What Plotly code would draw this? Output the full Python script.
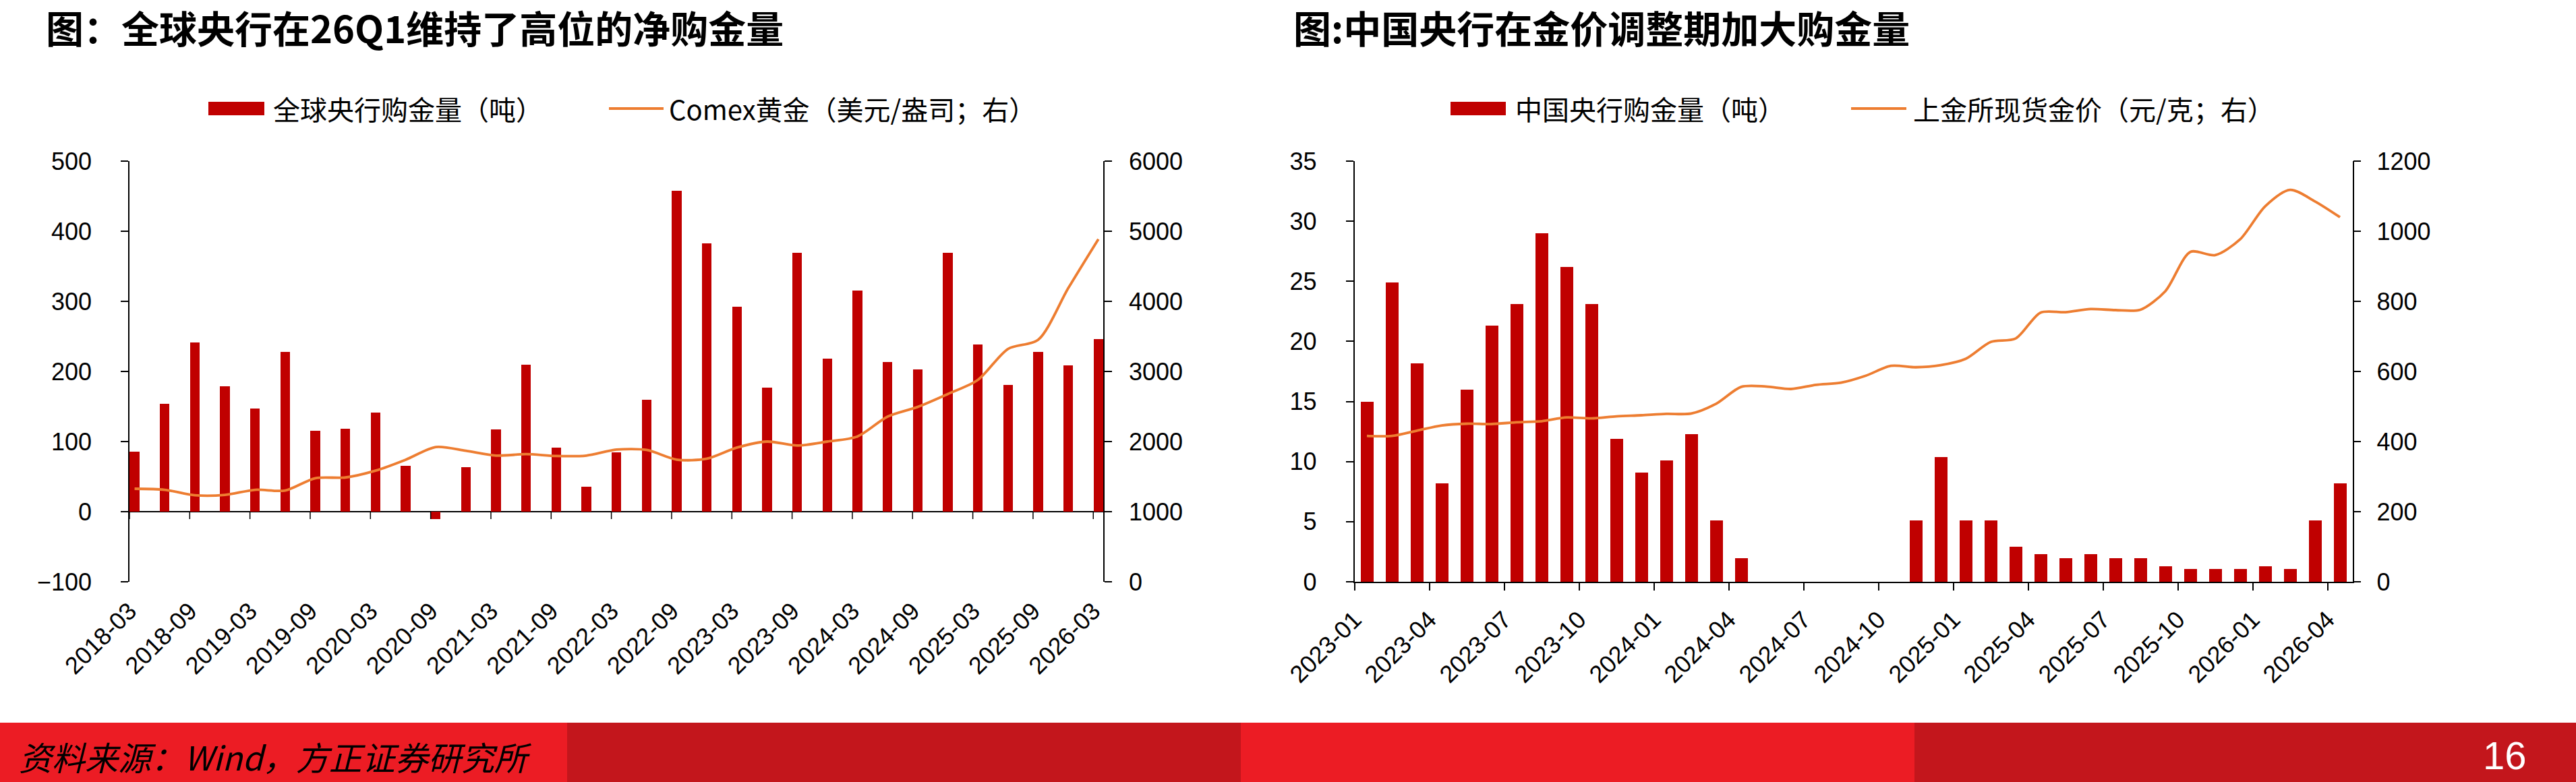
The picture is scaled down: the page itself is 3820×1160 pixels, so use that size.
import plotly.graph_objects as go

W, H = 3820, 1160

# ---------------- data: chart 1 (global central bank net purchases) ----------------
quarters = ["2018-03", "2018-06", "2018-09", "2018-12",
            "2019-03", "2019-06", "2019-09", "2019-12",
            "2020-03", "2020-06", "2020-09", "2020-12",
            "2021-03", "2021-06", "2021-09", "2021-12",
            "2022-03", "2022-06", "2022-09", "2022-12",
            "2023-03", "2023-06", "2023-09", "2023-12",
            "2024-03", "2024-06", "2024-09", "2024-12",
            "2025-03", "2025-06", "2025-09", "2025-12",
            "2026-03"]
gcb_tonnes = [86, 154, 241, 179, 147, 228, 115, 118, 141, 65, -11, 63, 117, 210, 91, 36,
              85, 160, 458, 383, 292, 177, 369, 218, 315, 213, 203, 369, 238, 181, 228, 209, 246]
comex_usd = [1327, 1312, 1234, 1239, 1312, 1302, 1478, 1488, 1585, 1741, 1922, 1868, 1800, 1820,
             1794, 1800, 1885, 1880, 1742, 1755, 1914, 2000, 1944, 2000, 2073, 2356, 2494, 2678,
             2880, 3322, 3451, 4189, 4888]

# ---------------- data: chart 2 (PBoC purchases) ----------------
months = ["2023-01", "2023-02", "2023-03", "2023-04", "2023-05", "2023-06", "2023-07", "2023-08",
          "2023-09", "2023-10", "2023-11", "2023-12", "2024-01", "2024-02", "2024-03", "2024-04",
          "2024-05", "2024-06", "2024-07", "2024-08", "2024-09", "2024-10", "2024-11", "2024-12",
          "2025-01", "2025-02", "2025-03", "2025-04", "2025-05", "2025-06", "2025-07", "2025-08",
          "2025-09", "2025-10", "2025-11", "2025-12", "2026-01", "2026-02", "2026-03", "2026-04"]
pboc_tonnes = [15.0, 24.9, 18.2, 8.2, 16.0, 21.3, 23.1, 29.0, 26.2, 23.1, 11.9, 9.1, 10.1, 12.3, 5.1, 1.95,
               0, 0, 0, 0, 0, 0, 5.1, 10.4,
               5.1, 5.1, 2.9, 2.3, 1.95, 2.3, 1.95, 1.95, 1.3, 1.05, 1.05, 1.05, 1.3, 1.05, 5.1, 8.2]
sge_cny = [416, 416, 431, 446, 451, 450, 455, 458, 469, 466, 472, 475, 479, 480, 508, 556,
           557, 550, 562, 568, 588, 616, 612, 618, 636, 684, 694, 768, 769, 778, 775, 776,
           829, 941, 932, 977, 1071, 1118, 1085, 1040]

title1 = "图：全球央行在26Q1维持了高位的净购金量"
title2 = "图:中国央行在金价调整期加大购金量"
leg1_bar = "全球央行购金量（吨）"
leg1_line = "Comex黄金（美元/盎司；右）"
leg2_bar = "中国央行购金量（吨）"
leg2_line = "上金所现货金价（元/克；右）"
source = "资料来源：Wind，方正证券研究所"
page_no = "16"

# ---------------- styles ----------------
BAR = "#C00000"
LINE = "#ED7D31"
NUM_FONT = dict(family="Liberation Sans, Arial, sans-serif", size=36, color="black")
CJK = "Noto Sans CJK SC"


def fx(p):
    return p / W


def fy(p):
    return 1 - p / H


PLOT_TOP, PLOT_BOT = 239, 863
ydom = [fy(PLOT_BOT), fy(PLOT_TOP)]

q_idx = list(range(len(quarters)))
m_idx = list(range(len(months)))
Q_OFF = 0.17  # tick offset of chart-1 date axis relative to bar centres

fig = go.Figure()
fig.add_trace(go.Bar(x=q_idx, y=gcb_tonnes, xaxis="x", yaxis="y", marker_color=BAR,
                     marker_line_width=0, width=0.32, showlegend=False))
fig.add_trace(go.Scatter(x=q_idx, y=comex_usd, xaxis="x", yaxis="y2", mode="lines",
                         line=dict(color=LINE, width=3.8, shape="spline", smoothing=0.8),
                         showlegend=False))
fig.add_trace(go.Bar(x=m_idx, y=pboc_tonnes, xaxis="x2", yaxis="y3", marker_color=BAR,
                     marker_line_width=0, width=0.49, showlegend=False))
fig.add_trace(go.Scatter(x=m_idx, y=sge_cny, xaxis="x2", yaxis="y4", mode="lines",
                         line=dict(color=LINE, width=3.8, shape="spline", smoothing=0.8),
                         showlegend=False))

q_ticks = [i - Q_OFF for i in q_idx[::2]]
q_text = quarters[::2]
m_ticks = [i - 0.5 for i in m_idx[::3]]
m_text = months[::3]

axis_common = dict(showgrid=False, linecolor="black", linewidth=1.5, tickcolor="black",
                   tickwidth=1.5, ticklen=11, tickfont=NUM_FONT, automargin=False)

fig.update_layout(
    template="none",
    width=W, height=H, autosize=False,
    margin=dict(l=0, r=0, t=0, b=0, pad=0),
    paper_bgcolor="white", plot_bgcolor="white",
    font=dict(family="Liberation Sans, Arial, sans-serif", color="black"),
    showlegend=False,
    bargap=0,
    xaxis=dict(domain=[fx(192), fx(1636)], anchor="y", range=[-Q_OFF, len(quarters) - 1 + 0.16],
               tickmode="array", tickvals=q_ticks, ticktext=q_text, tickangle=-45,
               showline=False, ticks="", showgrid=False, zeroline=False, tickfont=NUM_FONT,
               ticklabelstandoff=14, automargin=False),
    yaxis=dict(domain=ydom, anchor="x", range=[-100, 500], dtick=100, showline=True,
               ticks="outside", zeroline=True, zerolinecolor="black", zerolinewidth=1.5,
               ticklabelstandoff=36, **axis_common),
    yaxis2=dict(overlaying="y", side="right", anchor="x", range=[0, 6000], dtick=1000,
                showline=True, ticks="outside", zeroline=False, ticklabelstandoff=18,
                **axis_common),
    xaxis2=dict(domain=[fx(2008.5), fx(3488.5)], anchor="y3", range=[-0.5, len(months) - 0.5],
                tickmode="array", tickvals=m_ticks, ticktext=m_text, tickangle=-45,
                showline=True, ticks="outside", zeroline=False, ticklabelstandoff=8,
                **axis_common),
    yaxis3=dict(domain=ydom, anchor="x2", range=[0, 35], dtick=5, showline=True,
                ticks="outside", zeroline=False, ticklabelstandoff=36, **axis_common),
    yaxis4=dict(overlaying="y3", side="right", anchor="x2", range=[0, 1200], dtick=200,
                showline=True, ticks="outside", zeroline=False, ticklabelstandoff=16,
                **axis_common),
)

shapes = []
# chart-1 x-axis tick marks hanging from the zero line
for t in q_ticks:
    shapes.append(dict(type="line", xref="x", yref="y", x0=t, x1=t, ysizemode="pixel",
                       yanchor=0, y0=0, y1=-11, line=dict(color="black", width=1.5)))

# manual legends
def legend_items(bar_x0, bar_x1, line_x0, line_x1, yc):
    return [
        dict(type="rect", xref="paper", yref="paper", x0=fx(bar_x0), x1=fx(bar_x1),
             y0=fy(yc + 10), y1=fy(yc - 10), fillcolor=BAR, line=dict(width=0)),
        dict(type="line", xref="paper", yref="paper", x0=fx(line_x0), x1=fx(line_x1),
             y0=fy(yc), y1=fy(yc), line=dict(color=LINE, width=4)),
    ]

shapes += legend_items(309, 392, 903, 984, 161)
shapes += legend_items(2151, 2233, 2745, 2827, 161)

# footer band
FOOT_TOP = 1072
for x0, x1, col in [(0, 841, "#EC1C24"), (841, 1840, "#C3161C"),
                    (1840, 2839, "#EC1C24"), (2839, 3820, "#C3161C")]:
    shapes.append(dict(type="rect", xref="paper", yref="paper", x0=fx(x0), x1=fx(x1),
                       y0=0, y1=fy(FOOT_TOP), fillcolor=col, line=dict(width=0), layer="below"))

fig.update_layout(shapes=shapes)

LEG_SIZE = 40
annotations = [
    dict(text=title1, x=fx(66), y=fy(40), xref="paper", yref="paper", xanchor="left",
         yanchor="middle", showarrow=False,
         font=dict(family=CJK, size=56, color="black", weight="bold")),
    dict(text=title2, x=fx(1916), y=fy(40), xref="paper", yref="paper", xanchor="left",
         yanchor="middle", showarrow=False,
         font=dict(family=CJK, size=56, color="black", weight="bold")),
    dict(text=leg1_bar, x=fx(403), y=fy(161), xref="paper", yref="paper", xanchor="left",
         yanchor="middle", showarrow=False, font=dict(family=CJK, size=LEG_SIZE, color="black")),
    dict(text=leg1_line, x=fx(990), y=fy(161), xref="paper", yref="paper", xanchor="left",
         yanchor="middle", showarrow=False, font=dict(family=CJK, size=LEG_SIZE, color="black")),
    dict(text=leg2_bar, x=fx(2245), y=fy(161), xref="paper", yref="paper", xanchor="left",
         yanchor="middle", showarrow=False, font=dict(family=CJK, size=LEG_SIZE, color="black")),
    dict(text=leg2_line, x=fx(2835), y=fy(161), xref="paper", yref="paper", xanchor="left",
         yanchor="middle", showarrow=False, font=dict(family=CJK, size=LEG_SIZE, color="black")),
    dict(text=source, x=fx(26), y=fy(1121), xref="paper", yref="paper", xanchor="left",
         yanchor="middle", showarrow=False,
         font=dict(family=CJK, size=49, color="black", style="italic")),
    dict(text=page_no, x=fx(3714), y=fy(1120), xref="paper", yref="paper", xanchor="center",
         yanchor="middle", showarrow=False,
         font=dict(family="Liberation Sans, Arial, sans-serif", size=58, color="white")),
]
fig.update_layout(annotations=annotations)

fig.write_html("out.html")
